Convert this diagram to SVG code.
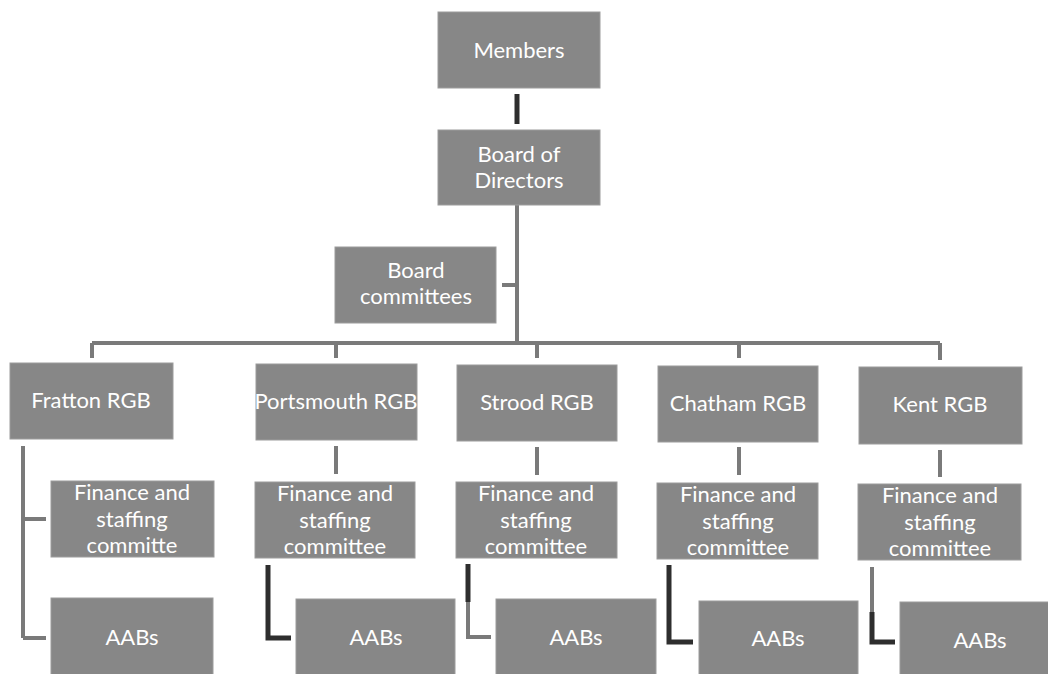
<svg xmlns="http://www.w3.org/2000/svg" width="1048" height="674" viewBox="0 0 1048 674">
<style>
.box{fill:#878787;stroke:#9c9c9c;stroke-width:1}
.t{font-family:Lato,"Liberation Sans",sans-serif;font-size:22px;fill:#ffffff;text-anchor:middle}
.g{stroke:#7a7a7a;stroke-width:4;fill:none}
.d{stroke:#2e2e2e;stroke-width:5;fill:none}
</style>
<rect width="1048" height="674" fill="#ffffff"/>
<g id="connectors">
<path class="d" d="M517 94V124"/>
<path class="g" d="M517 205V343M502 285H517M92 343H940M92 343V358M336 343V358M537 343V358M739 343V358M940 343V360"/>
<path class="g" d="M23 446V638M23 519H46M23 638H46"/>
<path class="g" d="M336 446V474M537 447V475M739 447V475M940 450V477"/>
<path class="d" d="M268 565V638H291"/>
<path class="d" d="M468 564V602"/>
<path class="g" d="M468 602V637H491"/>
<path class="d" d="M669 565V642H693"/>
<path class="g" d="M872 567V612"/>
<path class="d" d="M872 612V642H895"/>
</g>
<g id="members"><rect class="box" x="438" y="12" width="162" height="76"/><text class="t" x="519" y="58">Members</text></g>
<g id="board"><rect class="box" x="438" y="130" width="162" height="75"/><text class="t" x="519" y="162">Board of</text><text class="t" x="519" y="188">Directors</text></g>
<g id="committees"><rect class="box" x="335" y="247" width="161" height="76"/><text class="t" x="416" y="278">Board</text><text class="t" x="416" y="304">committees</text></g>
<g id="fratton"><rect class="box" x="10" y="363" width="163" height="76"/><text class="t" x="91" y="408">Fratton RGB</text></g>
<g id="portsmouth"><rect class="box" x="256" y="364" width="161" height="76"/><text class="t" x="336" y="409">Portsmouth RGB</text></g>
<g id="strood"><rect class="box" x="457" y="365" width="160" height="76"/><text class="t" x="537" y="410">Strood RGB</text></g>
<g id="chatham"><rect class="box" x="658" y="366" width="160" height="76"/><text class="t" x="738" y="411">Chatham RGB</text></g>
<g id="kent"><rect class="box" x="859" y="367" width="163" height="77"/><text class="t" x="940" y="412">Kent RGB</text></g>
<g id="fin-fratton"><rect class="box" x="51" y="481" width="163" height="76"/><text class="t" x="132" y="500">Finance and</text><text class="t" x="132" y="527">staffing</text><text class="t" x="132" y="553">committe</text></g>
<g id="fin-portsmouth"><rect class="box" x="255" y="482" width="160" height="76"/><text class="t" x="335" y="501">Finance and</text><text class="t" x="335" y="528">staffing</text><text class="t" x="335" y="554">committee</text></g>
<g id="fin-strood"><rect class="box" x="456" y="482" width="161" height="76"/><text class="t" x="536" y="501">Finance and</text><text class="t" x="536" y="528">staffing</text><text class="t" x="536" y="554">committee</text></g>
<g id="fin-chatham"><rect class="box" x="657" y="483" width="161" height="76"/><text class="t" x="738" y="502">Finance and</text><text class="t" x="738" y="529">staffing</text><text class="t" x="738" y="555">committee</text></g>
<g id="fin-kent"><rect class="box" x="858" y="484" width="163" height="76"/><text class="t" x="940" y="503">Finance and</text><text class="t" x="940" y="530">staffing</text><text class="t" x="940" y="556">committee</text></g>
<g id="aab-fratton"><rect class="box" x="51" y="598" width="162" height="80"/><text class="t" x="132" y="645">AABs</text></g>
<g id="aab-portsmouth"><rect class="box" x="296" y="599" width="159" height="80"/><text class="t" x="376" y="645">AABs</text></g>
<g id="aab-strood"><rect class="box" x="496" y="599" width="160" height="80"/><text class="t" x="576" y="645">AABs</text></g>
<g id="aab-chatham"><rect class="box" x="699" y="601" width="159" height="80"/><text class="t" x="778" y="646">AABs</text></g>
<g id="aab-kent"><rect class="box" x="900" y="602" width="160" height="80"/><text class="t" x="980" y="648">AABs</text></g>
</svg>
